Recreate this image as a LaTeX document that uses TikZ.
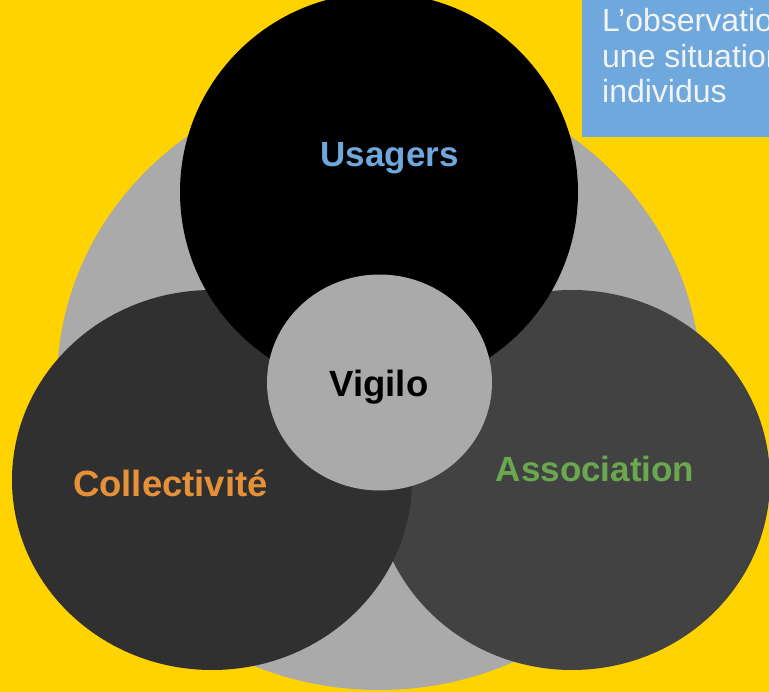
\documentclass[tikz,border=0pt]{standalone}
\usepackage{fontspec}
\setmainfont{Liberation Sans}
\definecolor{bgyellow}{HTML}{FFD300}
\definecolor{midgray}{HTML}{AAAAAA}
\definecolor{leftdark}{HTML}{303030}
\definecolor{rightdark}{HTML}{424242}
\definecolor{boxblue}{HTML}{6FA8DC}
\definecolor{orangetxt}{HTML}{E69138}
\definecolor{greentxt}{HTML}{6AA84F}
\definecolor{boxtxt}{HTML}{F3F3F3}
\begin{document}
\begin{tikzpicture}[x=1pt,y=-1pt,
  label/.style={font=\fontsize{35}{40}\selectfont\bfseries, anchor=base, inner sep=0pt},
  boxline/.style={font=\fontsize{32}{36}\selectfont, text=boxtxt, anchor=base west, inner sep=0pt}]
\useasboundingbox (0,0) rectangle (769,692);
\clip (0,0) rectangle (769,692);
\fill[bgyellow] (0,0) rectangle (769,692);
% big gray ellipse
\fill[midgray] (379,383) ellipse [x radius=322pt, y radius=307pt];
% right ellipse
\fill[rightdark] (572,480) ellipse [x radius=198pt, y radius=190pt];
% left ellipse
\fill[leftdark] (212,480) ellipse [x radius=200pt, y radius=190pt];
% black circle
\fill[black] (379,192) circle [radius=199pt];
% Vigilo circle
\fill[midgray] (379.5,382.5) ellipse [x radius=112.5pt, y radius=108pt];
% blue box
\fill[boxblue] (582,-5) rectangle (800,137);
\node[boxline] (b1) at (602,32) {L’observation};
\node[boxline] (b2) at (602,68) {une situation};
\node[boxline] (b3) at (602,103) {individus};
% labels
\node[label, text=boxblue] (usagers) at (389.5,167) {Usagers};
\node[label, text=orangetxt, font=\fontsize{36.5}{40}\selectfont\bfseries] (collect) at (170.5,497) {Collectivité};
\node[label, text=greentxt] (assoc) at (595,482) {Association};
\node[label, text=black, font=\fontsize{36.5}{40}\selectfont\bfseries] (vigilo) at (379,397) {Vigilo};
\end{tikzpicture}
\end{document}
